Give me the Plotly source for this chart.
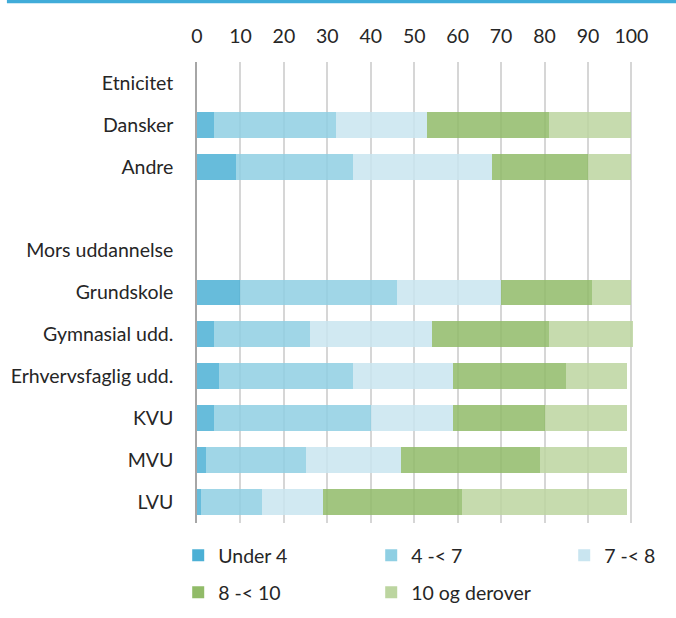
import plotly.graph_objects as go

categories = ["Etnicitet", "Dansker", "Andre", " ", "Mors uddannelse", "Grundskole",
              "Gymnasial udd.", "Erhvervsfaglig udd.", "KVU", "MVU", "LVU"]
series_names = ["Under 4", "4 -< 7", "7 -< 8", "8 -< 10", "10 og derover"]
under_4 = [None, 4, 9, None, None, 10, 4, 5, 4, 2, 1]
g4_7 = [None, 28, 27, None, None, 36, 22, 31, 36, 23, 14]
g7_8 = [None, 21, 32, None, None, 24, 28, 23, 19, 22, 14]
g8_10 = [None, 28, 22, None, None, 21, 27, 26, 21, 32, 32]
g10_plus = [None, 19, 10, None, None, 9, 19.4, 14, 19, 20, 38]
x_ticks = [0, 10, 20, 30, 40, 50, 60, 70, 80, 90, 100]

series_values = [under_4, g4_7, g7_8, g8_10, g10_plus]
colors = ["rgb(76,176,213)", "rgb(143,207,227)", "rgb(201,229,240)",
          "rgb(145,187,104)", "rgb(188,213,160)"]
legends = ["legend", "legend", "legend", "legend2", "legend2"]

FONT = "Lato"
FS = 19.5
fig = go.Figure()
for name, vals, col, lg in zip(series_names, series_values, colors, legends):
    fig.add_trace(go.Bar(
        y=categories, x=vals, name=name, orientation="h",
        marker=dict(color=col, opacity=0.85, line=dict(width=0)),
        legend=lg,
    ))

fig.update_layout(
    width=676, height=618,
    barmode="stack", bargap=0.38,
    plot_bgcolor="white", paper_bgcolor="white",
    margin=dict(l=197, r=42, t=62, b=95, autoexpand=False),
    font=dict(family=FONT, size=FS, color="#262626"),
    xaxis=dict(
        side="top", range=[0, 100.6], tickvals=x_ticks, automargin=False,
        showgrid=True, gridcolor="#d6d6d6", gridwidth=1.5,
        zeroline=False, showline=False, ticks="", ticklabelstandoff=14,
        tickfont=dict(family=FONT, size=FS, color="#262626"),
    ),
    yaxis=dict(
        categoryorder="array", categoryarray=categories, autorange=False,
        range=[10.5, -0.5], showgrid=False, zeroline=False, automargin=False,
        showline=True, linecolor="#a6a6a6", linewidth=1.5,
        ticks="", ticklabelstandoff=18,
        tickfont=dict(family=FONT, size=FS, color="#262626"),
    ),
    legend=dict(
        orientation="h", x=-0.043, xanchor="left", y=-0.0285, yanchor="top",
        entrywidth=148, entrywidthmode="pixels", traceorder="normal",
        font=dict(family=FONT, size=FS, color="#262626"),
        itemclick=False, tracegroupgap=0,
    ),
    legend2=dict(
        orientation="h", x=-0.043, xanchor="left", y=-0.1085, yanchor="top",
        entrywidth=148, entrywidthmode="pixels", traceorder="normal",
        font=dict(family=FONT, size=FS, color="#262626"),
        itemclick=False,
    ),
    shapes=[dict(type="rect", xref="paper", yref="paper",
                 x0=-0.435, x1=1.1, y0=1.1275, y1=1.15,
                 fillcolor="#41acd9", line=dict(width=0), layer="above")],
    showlegend=True,
)

fig.write_html("out.html", config={"displayModeBar": False},
               post_script="document.body.style.margin='0px';")
